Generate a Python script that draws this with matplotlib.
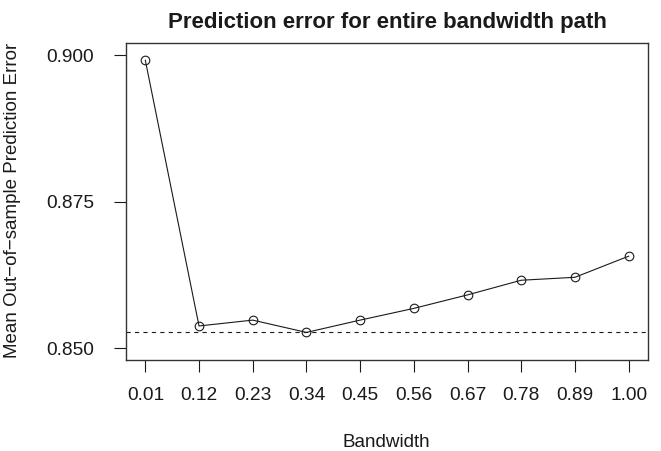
import numpy as np
import matplotlib.pyplot as plt

plt.rcParams['font.family'] = ['Liberation Sans', 'DejaVu Sans']

bandwidth = ['0.01', '0.12', '0.23', '0.34', '0.45', '0.56', '0.67', '0.78', '0.89', '1.00']
pred_error = [0.8991, 0.8538, 0.8548, 0.8527, 0.8548, 0.8568, 0.8591, 0.8616, 0.8621, 0.8657]
y_ticks = [0.850, 0.875, 0.900]

x = np.arange(1, len(bandwidth) + 1)
ink = '#1a1a1a'

fig = plt.figure(figsize=(6.61, 4.51), dpi=100)
ax = fig.add_axes([0.1906, 0.2018, 0.7897, 0.7022])

ax.plot(x, pred_error, color=ink, lw=0.8, marker='o', ms=6.2,
        mfc='none', mec=ink, mew=0.8)
ax.axhline(min(pred_error), color=ink, lw=0.8, ls=(0, (3.8, 3.8)))

# R style limits: 4% padding
ax.set_xlim(1 - 0.04 * 9, 10 + 0.04 * 9)
ax.set_ylim(0.848, 0.902)

ax.set_xticks(x)
ax.set_xticklabels(bandwidth)
ax.set_yticks(y_ticks)
ax.set_yticklabels(['%.3f' % v for v in y_ticks])
ax.tick_params(axis='x', length=8.6, width=0.8, color=ink, labelsize=13.8, pad=10.5, labelcolor=ink)
ax.tick_params(axis='y', length=8.6, width=0.8, color=ink, labelsize=13.8, pad=14.5, labelcolor=ink)
for s in ax.spines.values():
    s.set_color('#333333')
    s.set_linewidth(1.0)

ax.set_title('Prediction error for entire bandwidth path', fontsize=16,
             fontweight='bold', color=ink, pad=11)
fig.text(0.584, 0.009, 'Bandwidth', ha='center', va='baseline', fontsize=13.6, color=ink)
fig.text(0.019, 0.555, 'Mean Out\u2212of\u2212sample Prediction Error', rotation=90,
         ha='center', va='center', fontsize=13.5, color=ink)

fig.savefig('out.png', dpi=100)
